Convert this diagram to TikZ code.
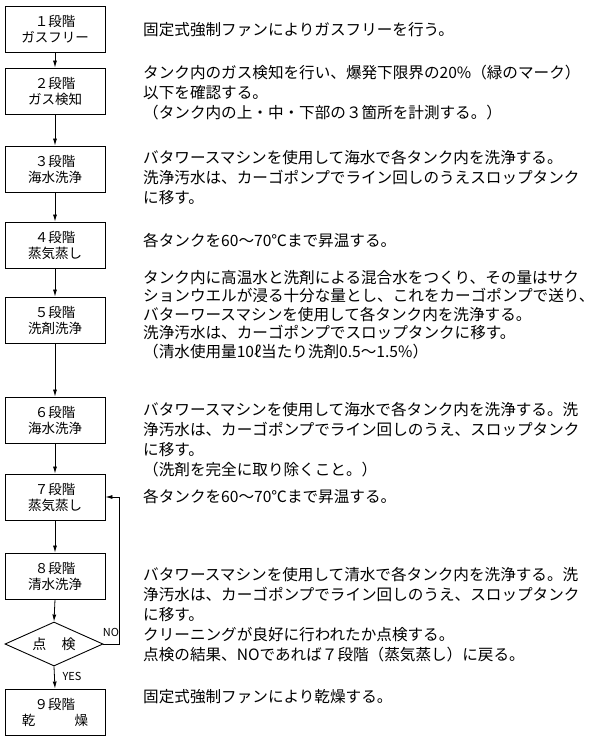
\documentclass[tikz,border=0pt]{standalone}
\usepackage{fontspec}
\setmainfont{Noto Sans CJK JP}
\usetikzlibrary{arrows.meta,shapes.geometric}
\tikzset{
  stagebox/.style={draw, line width=0.9pt, minimum width=100pt, minimum height=46pt, inner sep=0pt, align=center, font=\fontsize{13.5}{16}\selectfont},
  checkbox/.style={draw, line width=0.9pt, shape=diamond, aspect=2.2, minimum width=98pt, minimum height=44pt, inner sep=0pt, font=\fontsize{14}{16}\selectfont},
  flow/.style={line width=0.8pt, -{Latex[length=7pt,width=4pt]}},
  desc/.style={anchor=north west, inner sep=0pt, align=left, font=\fontsize{15.6}{20}\selectfont},
  tag/.style={inner sep=0pt, font=\fontsize{11}{12}\selectfont}
}
\begin{document}
\begin{tikzpicture}[x=1pt,y=-1pt]
\useasboundingbox (0,0) rectangle (600,739);
% stages
\node[stagebox] (s1) at (55,29) {１段階\\ガスフリー};
\node[stagebox] (s2) at (55,91) {２段階\\ガス検知};
\node[stagebox] (s3) at (55,169) {３段階\\海水洗浄};
\node[stagebox] (s4) at (55,245) {４段階\\蒸気蒸し};
\node[stagebox] (s5) at (55,320) {５段階\\洗剤洗浄};
\node[stagebox] (s6) at (55,420) {６段階\\海水洗浄};
\node[stagebox] (s7) at (55,497) {７段階\\蒸気蒸し};
\node[stagebox] (s8) at (55,576) {８段階\\清水洗浄};
\node[checkbox] (chk) at (54,644) {点\hspace{1.1em}検};
\node[stagebox] (s9) at (55,712) {９段階\\乾\hspace{2.9em}燥};
% connectors
\draw[flow] (s1) -- (s2);
\draw[flow] (s2) -- (s3);
\draw[flow] (s3) -- (s4);
\draw[flow] (s4) -- (s5);
\draw[flow] (s5) -- (s6);
\draw[flow] (s6) -- (s7);
\draw[flow] (s7) -- (s8);
\draw[flow] (s8.south) -- (chk.north);
\draw[flow] (chk.south) -- (s9.north);
\draw[flow] (chk.east) -- ++(16,0) |- (s7.east);
\node[tag] (no) at (111,632) {NO};
\node[tag] (yes) at (72,676) {YES};
% descriptions
\node[desc] (d1) at (143,22) {固定式強制ファンによりガスフリーを行う。};
\node[desc] (d2) at (143,65) {タンク内のガス検知を行い、爆発下限界の20\%（緑のマーク）\\以下を確認する。\\（タンク内の上・中・下部の３箇所を計測する。）};
\node[desc] (d3) at (143,150) {バタワースマシンを使用して海水で各タンク内を洗浄する。\\洗浄汚水は、カーゴポンプでライン回しのうえスロップタンク\\に移す。};
\node[desc] (d4) at (143,233) {各タンクを60～70℃まで昇温する。};
\node[desc, font=\fontsize{15.6}{18.5}\selectfont] (d5) at (143,270) {タンク内に高温水と洗剤による混合水をつくり、その量はサク\\ションウエルが浸る十分な量とし、これをカーゴポンプで送り、\\バターワースマシンを使用して各タンク内を洗浄する。\\洗浄汚水は、カーゴポンプでスロップタンクに移す。\\（清水使用量10ℓ当たり洗剤0.5～1.5\%）};
\node[desc] (d6) at (143,402) {バタワースマシンを使用して海水で各タンク内を洗浄する。洗\\浄汚水は、カーゴポンプでライン回しのうえ、スロップタンク\\に移す。\\（洗剤を完全に取り除くこと。）};
\node[desc] (d7) at (143,489) {各タンクを60～70℃まで昇温する。};
\node[desc] (d8) at (143,567) {バタワースマシンを使用して清水で各タンク内を洗浄する。洗\\浄汚水は、カーゴポンプでライン回しのうえ、スロップタンク\\に移す。\\クリーニングが良好に行われたか点検する。\\点検の結果、NOであれば７段階（蒸気蒸し）に戻る。};
\node[desc] (d9) at (143,689) {固定式強制ファンにより乾燥する。};
\end{tikzpicture}
\end{document}
